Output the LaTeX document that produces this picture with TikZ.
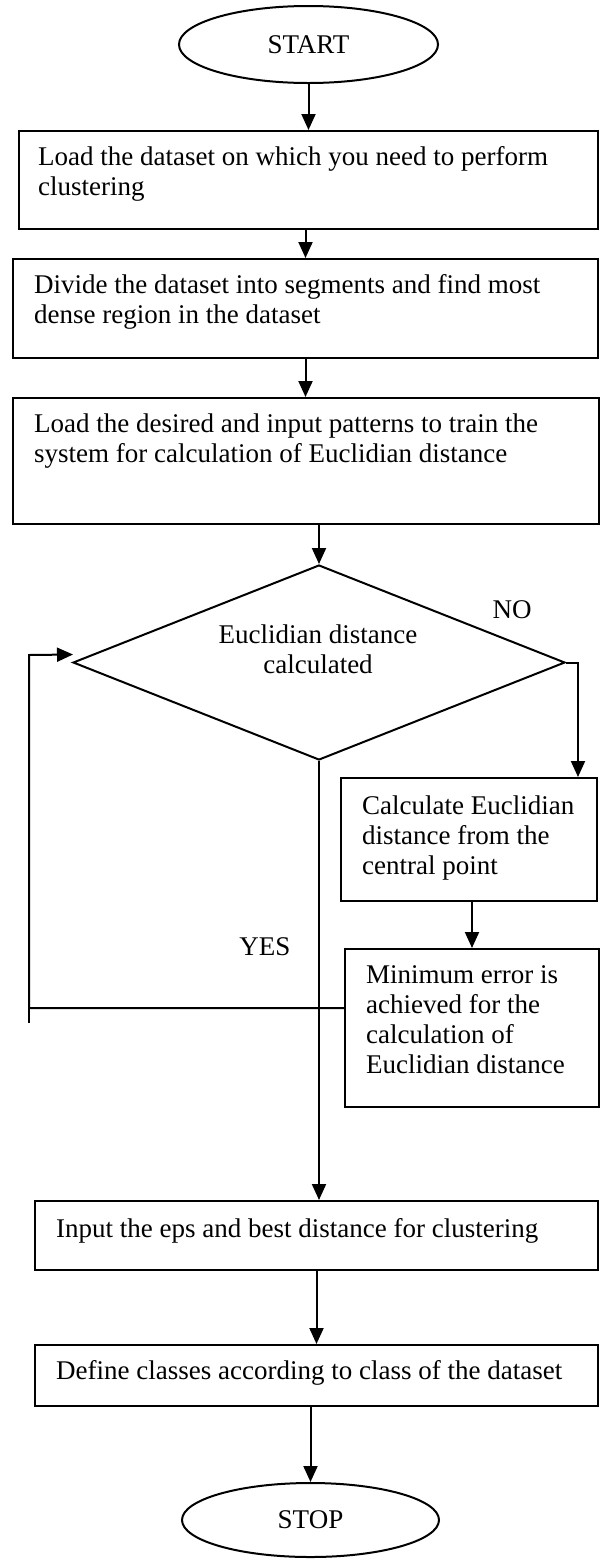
\documentclass[tikz,border=0pt]{standalone}
\usepackage{fontspec}
\setmainfont{Liberation Serif}
\usetikzlibrary{shapes.geometric,arrows.meta,calc}
\newcommand{\mlines}[1]{\begin{tabular}[t]{@{}l@{}}#1\end{tabular}}
\newcommand{\clines}[1]{\begin{tabular}[t]{@{}c@{}}#1\end{tabular}}
\tikzset{
  box/.style={draw, line width=2pt, rectangle, inner sep=0pt},
  oval/.style={draw, line width=2pt, ellipse, inner sep=0pt, font=\fontsize{27}{30}\selectfont},
  dec/.style={draw, line width=2pt, diamond, inner sep=0pt},
  txt/.style={anchor=base west, inner sep=0pt, font=\fontsize{27}{30}\selectfont},
  lbl/.style={anchor=base, inner sep=0pt, font=\fontsize{27}{30}\selectfont},
  arr/.style={line width=2pt, -{Triangle[length=16pt,width=14pt]}},
  ln/.style={line width=2pt},
}
\begin{document}
\begin{tikzpicture}[x=1pt,y=-1pt]
\useasboundingbox (0,0) rectangle (601,1559);

% terminals
\node[oval, minimum width=259, minimum height=77] (start) at (308.5,44.5) {START};
\node[oval, minimum width=257, minimum height=74] (stop) at (310.5,1520) {STOP};

% process boxes
\node[box, minimum width=579, minimum height=98]  (b1)   at (308.5,180) {};
\node[box, minimum width=585, minimum height=99]  (b2)   at (305.5,308.5) {};
\node[box, minimum width=586, minimum height=126] (b3)   at (306,461) {};
\node[box, minimum width=256, minimum height=123] (calc) at (469,839.5) {};
\node[box, minimum width=254, minimum height=158] (mine) at (472,1028) {};
\node[box, minimum width=563, minimum height=69]  (inp)  at (316.5,1235.5) {};
\node[box, minimum width=563, minimum height=61]  (def)  at (316.5,1375.5) {};

% decision
\node[dec, minimum width=492, minimum height=195] (dia) at (319,662.5) {};

% texts
\node[txt] (t1) at (38,165) {\mlines{Load the dataset on which you need to perform\\clustering}};
\node[txt] (t2) at (34,293) {\mlines{Divide the dataset into segments and find most\\dense region in the dataset}};
\node[txt] (t3) at (34,432) {\mlines{Load the desired and input patterns to train the\\system for calculation of Euclidian distance}};
\node[lbl] (td) at (318,643) {\clines{Euclidian distance\\calculated}};
\node[txt] (tc) at (362,814) {\mlines{Calculate Euclidian\\distance from the\\central point}};
\node[txt] (tm) at (366,983) {\mlines{Minimum error is\\achieved for the\\calculation of\\Euclidian distance}};
\node[txt] (ti) at (56,1237) {Input the eps and best distance for clustering};
\node[txt] (tdf) at (56,1379) {Define classes according to class of the dataset};
\node[lbl] (no) at (512,618) {NO};
\node[lbl] (yes) at (265,955) {YES};

% loop coordinates
\coordinate (lpb) at (29,1008);
\coordinate (lpt) at (29,655);

% connectors
\draw[arr] (start) -- (b1);
\draw[arr] (b1.south -| b2.north) -- (b2.north);
\draw[arr] (b2.south) -- (b2.south |- b3.north);
\draw[arr] (b3.south -| dia.north) -- (dia.north);
\draw[arr] (dia.east) -| ($(calc.north east)+(-20,0)$);
\draw[arr] (calc.south -| mine.north) -- (mine.north);
\draw[arr] (dia.south) -- (dia.south |- inp.north);
\draw[arr] ($(mine.west)+(0,-20)$) -- (lpb) -- (lpt) -- ($(dia.west)+(1,-8)$);
\draw[ln] (lpb) -- ++(0,15);
\draw[arr] (inp) -- (def);
\draw[arr] (def.south -| stop.north) -- (stop.north);
\end{tikzpicture}
\end{document}
